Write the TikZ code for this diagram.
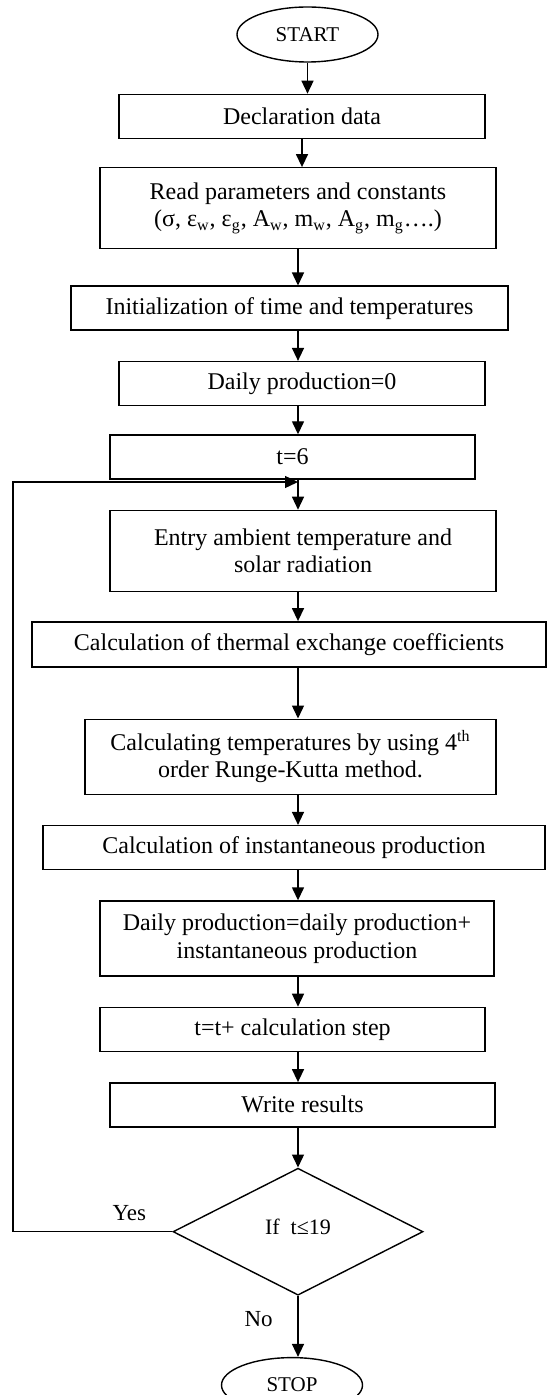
\documentclass[tikz,border=0pt]{standalone}
\usepackage{fontspec}
\setmainfont{Liberation Serif}
\usetikzlibrary{positioning,shapes.geometric,arrows.meta}

\begin{document}
\begin{tikzpicture}[x=0.5pt, y=-0.5pt, node distance=15pt]
	\tikzset{blk/.style={draw=black, rectangle, line width=0.7pt, minimum height=22pt, inner sep=2pt, align=center, font=\fontsize{12}{13.8}\selectfont},
	term/.style={draw=black, ellipse, line width=0.7pt, minimum width=70.5pt, minimum height=27.5pt, inner sep=0pt, font=\fontsize{10.5}{12}\selectfont},
	dec/.style={draw=black, diamond, line width=0.7pt, minimum width=125pt, minimum height=63.5pt, inner sep=0pt, font=\fontsize{11}{13}\selectfont},
	lbl/.style={font=\fontsize{11.5}{13}\selectfont},
	f/.style={->, >={Triangle[width=6pt, length=6.5pt]}, line width=0.7pt}};

	\useasboundingbox (0,0) rectangle (552,1395);

	\node[term] (start) at (307.5,34.5) {START};
	\node[blk, below=15.5pt of start, xshift=-2.75pt, minimum width=183pt] (decl) {Declaration data};
	\node[blk, below=14pt of decl, xshift=-2pt, minimum width=198pt, minimum height=40.5pt] (read) {Read parameters and constants\\(σ, ε\textsubscript{w}, ε\textsubscript{g}, A\textsubscript{w}, m\textsubscript{w}, A\textsubscript{g}, m\textsubscript{g}….)};
	\node[blk, below=18pt of read, xshift=-4.25pt, minimum width=218.5pt] (init) {Initialization of time and temperatures};
	\node[blk, below=15pt of init, xshift=6.25pt, minimum width=183pt] (daily0) {Daily production=0};
	\node[blk, below=14pt of daily0, xshift=-4.75pt, minimum width=182.5pt] (t6) {t=6};
	\node[blk, below=15pt of t6, xshift=5.25pt, minimum width=193pt, minimum height=40.5pt] (entry) {Entry ambient temperature and\\solar radiation};
	\node[blk, below=14.5pt of entry, xshift=-7pt, minimum width=257pt, minimum height=22.5pt] (coef) {Calculation of thermal exchange coefficients};
	\node[blk, below=25.5pt of coef, xshift=0.75pt, minimum width=205.5pt, minimum height=37.5pt] (rk) {Calculating temperatures by using 4\textsuperscript{th}\\order Runge-Kutta method.};
	\node[blk, below=15pt of rk, xshift=1.75pt, minimum width=251pt] (inst) {Calculation of instantaneous production};
	\node[blk, below=15pt of inst, xshift=1.5pt, minimum width=197pt, minimum height=37.5pt] (daily) {Daily production=daily production+\\instantaneous production};
	\node[blk, below=15pt of daily, xshift=-2.25pt, minimum width=192.5pt] (tstep) {t=t+ calculation step};
	\node[blk, below=15pt of tstep, xshift=5pt, minimum width=192.5pt] (write) {Write results};
	\node[dec, below=20pt of write, xshift=-2.25pt] (test) {\raisebox{5pt}{If~~t≤19}};
	\node[term, below=30.5pt of test, xshift=-3pt] (stop) {STOP};

	\coordinate (sp) at (298,0);
	\coordinate (lp) at (13,482);

	\draw[f] (start) -- (start |- decl.north);
	\draw[f] (decl) -- (decl |- read.north);
	\draw[f] (read.south -| sp) -- (init.north -| sp);
	\draw[f] (init.south -| sp) -- (daily0.north -| sp);
	\draw[f] (daily0.south -| sp) -- (t6.north -| sp);
	\draw[f] (t6.south -| sp) -- (entry.north -| sp);
	\draw[f] (entry.south -| sp) -- (coef.north -| sp);
	\draw[f] (coef.south -| sp) -- (rk.north -| sp);
	\draw[f] (rk.south -| sp) -- (inst.north -| sp);
	\draw[f] (inst.south -| sp) -- (daily.north -| sp);
	\draw[f] (daily.south -| sp) -- (tstep.north -| sp);
	\draw[f] (tstep.south -| sp) -- (write.north -| sp);
	\draw[f] (write.south -| sp) -- (test.north);
	\draw[f] (test.south) -- node[pos=0.38, left=9pt, lbl] {No} (test.south |- stop.north);
	\draw[f] (test.west) -- node[pos=0.27, above=2pt, lbl] {Yes} (test.west -| lp) -- (lp) -- (lp -| sp);
\end{tikzpicture}
\end{document}
